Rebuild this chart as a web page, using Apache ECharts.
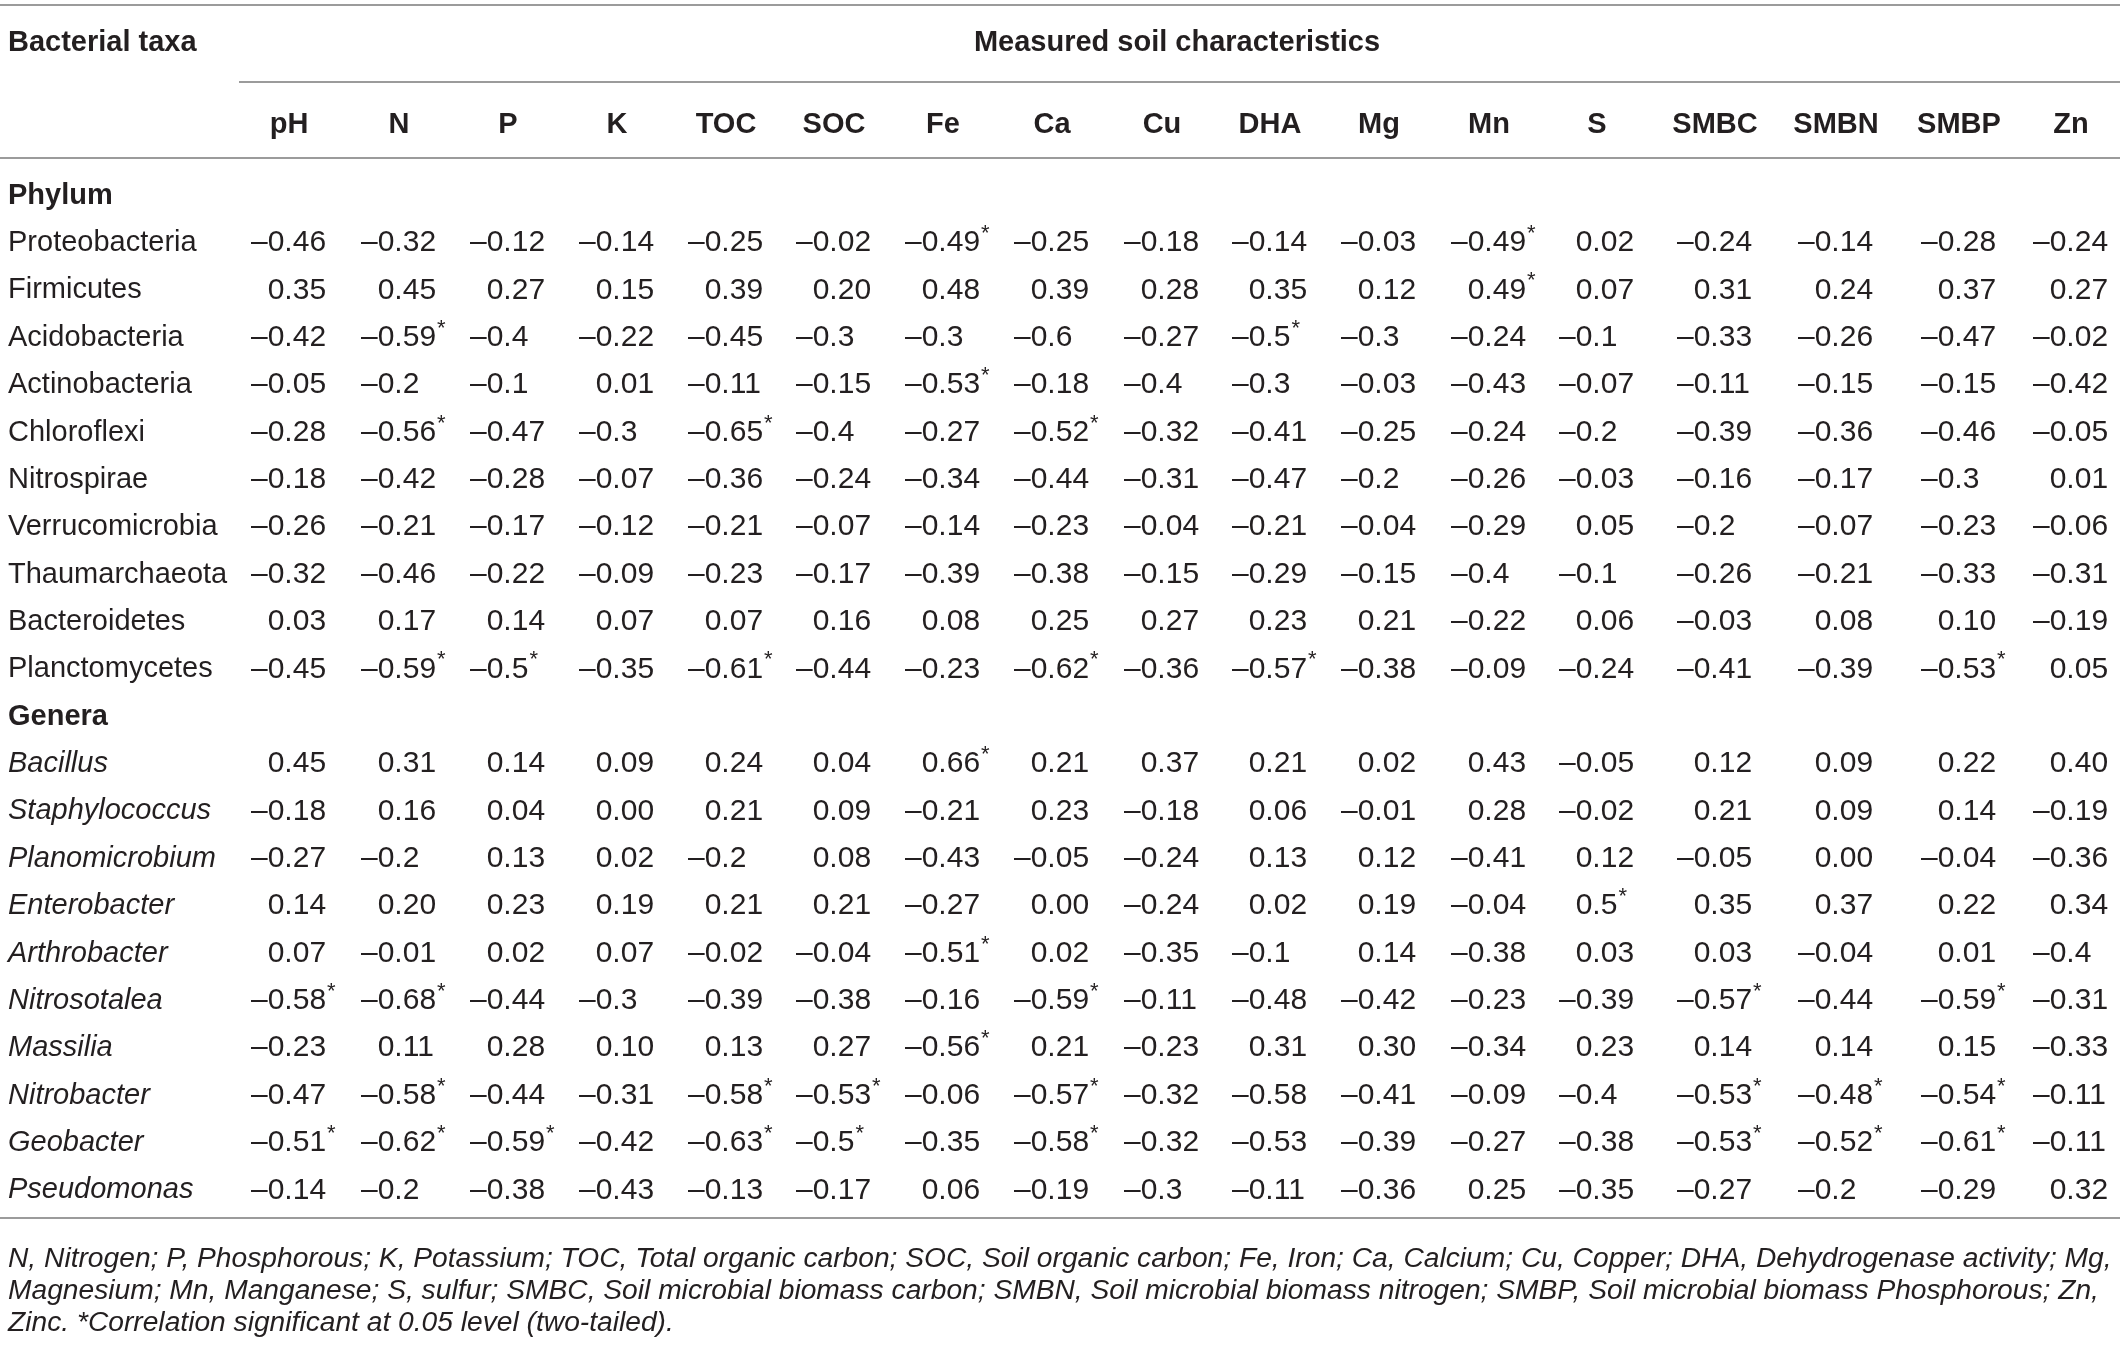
<!DOCTYPE html>
<html style="height: 100%">
<head>
    <meta charset="utf-8">
</head>
<body style="height: 100%; margin: 0; background: #fff">
<div id="container" style="width: 2120px; height: 1347px"></div>
<script type="text/javascript" src="https://cdn.jsdelivr.net/npm/echarts@6/dist/echarts.min.js"></script>
<script type="text/javascript">
    // soil characteristics (table columns)
    var columns = ['pH', 'N', 'P', 'K', 'TOC', 'SOC', 'Fe', 'Ca', 'Cu', 'DHA', 'Mg', 'Mn', 'S', 'SMBC', 'SMBN', 'SMBP', 'Zn'];

    var phyla = ['Proteobacteria', 'Firmicutes', 'Acidobacteria', 'Actinobacteria', 'Chloroflexi', 'Nitrospirae',
        'Verrucomicrobia', 'Thaumarchaeota', 'Bacteroidetes', 'Planctomycetes'];
    var genera = ['Bacillus', 'Staphylococcus', 'Planomicrobium', 'Enterobacter', 'Arthrobacter', 'Nitrosotalea',
        'Massilia', 'Nitrobacter', 'Geobacter', 'Pseudomonas'];

    // correlation values as printed, * = significant at 0.05
    var phylumValues = [
        ['–0.46', '–0.32', '–0.12', '–0.14', '–0.25', '–0.02', '–0.49*', '–0.25', '–0.18', '–0.14', '–0.03', '–0.49*', '0.02', '–0.24', '–0.14', '–0.28', '–0.24'],
        ['0.35', '0.45', '0.27', '0.15', '0.39', '0.20', '0.48', '0.39', '0.28', '0.35', '0.12', '0.49*', '0.07', '0.31', '0.24', '0.37', '0.27'],
        ['–0.42', '–0.59*', '–0.4', '–0.22', '–0.45', '–0.3', '–0.3', '–0.6', '–0.27', '–0.5*', '–0.3', '–0.24', '–0.1', '–0.33', '–0.26', '–0.47', '–0.02'],
        ['–0.05', '–0.2', '–0.1', '0.01', '–0.11', '–0.15', '–0.53*', '–0.18', '–0.4', '–0.3', '–0.03', '–0.43', '–0.07', '–0.11', '–0.15', '–0.15', '–0.42'],
        ['–0.28', '–0.56*', '–0.47', '–0.3', '–0.65*', '–0.4', '–0.27', '–0.52*', '–0.32', '–0.41', '–0.25', '–0.24', '–0.2', '–0.39', '–0.36', '–0.46', '–0.05'],
        ['–0.18', '–0.42', '–0.28', '–0.07', '–0.36', '–0.24', '–0.34', '–0.44', '–0.31', '–0.47', '–0.2', '–0.26', '–0.03', '–0.16', '–0.17', '–0.3', '0.01'],
        ['–0.26', '–0.21', '–0.17', '–0.12', '–0.21', '–0.07', '–0.14', '–0.23', '–0.04', '–0.21', '–0.04', '–0.29', '0.05', '–0.2', '–0.07', '–0.23', '–0.06'],
        ['–0.32', '–0.46', '–0.22', '–0.09', '–0.23', '–0.17', '–0.39', '–0.38', '–0.15', '–0.29', '–0.15', '–0.4', '–0.1', '–0.26', '–0.21', '–0.33', '–0.31'],
        ['0.03', '0.17', '0.14', '0.07', '0.07', '0.16', '0.08', '0.25', '0.27', '0.23', '0.21', '–0.22', '0.06', '–0.03', '0.08', '0.10', '–0.19'],
        ['–0.45', '–0.59*', '–0.5*', '–0.35', '–0.61*', '–0.44', '–0.23', '–0.62*', '–0.36', '–0.57*', '–0.38', '–0.09', '–0.24', '–0.41', '–0.39', '–0.53*', '0.05']
    ];
    var generaValues = [
        ['0.45', '0.31', '0.14', '0.09', '0.24', '0.04', '0.66*', '0.21', '0.37', '0.21', '0.02', '0.43', '–0.05', '0.12', '0.09', '0.22', '0.40'],
        ['–0.18', '0.16', '0.04', '0.00', '0.21', '0.09', '–0.21', '0.23', '–0.18', '0.06', '–0.01', '0.28', '–0.02', '0.21', '0.09', '0.14', '–0.19'],
        ['–0.27', '–0.2', '0.13', '0.02', '–0.2', '0.08', '–0.43', '–0.05', '–0.24', '0.13', '0.12', '–0.41', '0.12', '–0.05', '0.00', '–0.04', '–0.36'],
        ['0.14', '0.20', '0.23', '0.19', '0.21', '0.21', '–0.27', '0.00', '–0.24', '0.02', '0.19', '–0.04', '0.5*', '0.35', '0.37', '0.22', '0.34'],
        ['0.07', '–0.01', '0.02', '0.07', '–0.02', '–0.04', '–0.51*', '0.02', '–0.35', '–0.1', '0.14', '–0.38', '0.03', '0.03', '–0.04', '0.01', '–0.4'],
        ['–0.58*', '–0.68*', '–0.44', '–0.3', '–0.39', '–0.38', '–0.16', '–0.59*', '–0.11', '–0.48', '–0.42', '–0.23', '–0.39', '–0.57*', '–0.44', '–0.59*', '–0.31'],
        ['–0.23', '0.11', '0.28', '0.10', '0.13', '0.27', '–0.56*', '0.21', '–0.23', '0.31', '0.30', '–0.34', '0.23', '0.14', '0.14', '0.15', '–0.33'],
        ['–0.47', '–0.58*', '–0.44', '–0.31', '–0.58*', '–0.53*', '–0.06', '–0.57*', '–0.32', '–0.58', '–0.41', '–0.09', '–0.4', '–0.53*', '–0.48*', '–0.54*', '–0.11'],
        ['–0.51*', '–0.62*', '–0.59*', '–0.42', '–0.63*', '–0.5*', '–0.35', '–0.58*', '–0.32', '–0.53', '–0.39', '–0.27', '–0.38', '–0.53*', '–0.52*', '–0.61*', '–0.11'],
        ['–0.14', '–0.2', '–0.38', '–0.43', '–0.13', '–0.17', '0.06', '–0.19', '–0.3', '–0.11', '–0.36', '0.25', '–0.35', '–0.27', '–0.2', '–0.29', '0.32']
    ];

    var footnote = [
        'N, Nitrogen; P, Phosphorous; K, Potassium; TOC, Total organic carbon; SOC, Soil organic carbon; Fe, Iron; Ca, Calcium; Cu, Copper; DHA, Dehydrogenase activity; Mg,',
        'Magnesium; Mn, Manganese; S, sulfur; SMBC, Soil microbial biomass carbon; SMBN, Soil microbial biomass nitrogen; SMBP, Soil microbial biomass Phosphorous; Zn,',
        'Zinc. *Correlation significant at 0.05 level (two-tailed).'
    ];

    // layout: width of the taxa column, then each characteristic column
    var firstColWidth = 251;
    var colWidths = [110, 109, 109, 109, 108, 109, 109, 110, 108, 109, 110, 108, 118, 121, 123, 112];

    var FONT = '"Liberation Sans", Arial, Helvetica, sans-serif';
    var SIZE = 29;
    var VSIZE = 30;
    var INK = '#231f20';
    var RULE = '#7a7a7a';

    var colLeft = [firstColWidth];
    colWidths.forEach(function (w, i) { colLeft.push(colLeft[i] + w); });

    var rowNames = ['Phylum'].concat(phyla, ['Genera'], genera);
    var allValues = [null].concat(phylumValues, [null], generaValues);

    var cells = [];
    allValues.forEach(function (row, r) {
        if (!row) return;
        row.forEach(function (v, c) { cells.push([c, r, v]); });
    });

    var ctx = document.createElement('canvas').getContext('2d');
    ctx.font = VSIZE + 'px ' + FONT;
    var dashW = ctx.measureText('–').width;

    var dom = document.getElementById('container');
    var myChart = echarts.init(dom);

    var option = {
        backgroundColor: '#fff',
        animation: false,
        grid: { left: 0, right: 0, top: 172, bottom: 133 },
        xAxis: { type: 'value', min: 0, max: 2120, show: false },
        yAxis: {
            type: 'category',
            inverse: true,
            data: rowNames,
            axisLine: { show: false },
            axisTick: { show: false },
            splitLine: { show: false },
            axisLabel: {
                inside: true,
                margin: 8,
                align: 'left',
                color: INK,
                fontFamily: FONT,
                fontSize: SIZE,
                formatter: function (v, i) {
                    if (v === 'Phylum' || v === 'Genera') return '{b|' + v + '}';
                    if (genera.indexOf(v) >= 0) return '{i|' + v + '}';
                    return v;
                },
                rich: {
                    b: { fontWeight: 'bold', fontFamily: FONT, fontSize: SIZE, color: INK },
                    i: { fontStyle: 'italic', fontFamily: FONT, fontSize: SIZE, color: INK }
                }
            }
        },
        graphic: [
            { type: 'line', shape: { x1: 0, y1: 5, x2: 2120, y2: 5 }, style: { stroke: RULE, lineWidth: 1.6 } },
            { type: 'line', shape: { x1: 239, y1: 82, x2: 2120, y2: 82 }, style: { stroke: RULE, lineWidth: 1.6 } },
            { type: 'line', shape: { x1: 0, y1: 158, x2: 2120, y2: 158 }, style: { stroke: RULE, lineWidth: 1.6 } },
            { type: 'line', shape: { x1: 0, y1: 1218, x2: 2120, y2: 1218 }, style: { stroke: RULE, lineWidth: 1.6 } },
            {
                type: 'text', x: 8, y: 43,
                style: { text: 'Bacterial taxa', font: 'bold ' + SIZE + 'px ' + FONT, fill: INK, verticalAlign: 'middle' }
            },
            {
                type: 'text', x: 1177, y: 43,
                style: { text: 'Measured soil characteristics', font: 'bold ' + SIZE + 'px ' + FONT, fill: INK, align: 'center', verticalAlign: 'middle' }
            },
            {
                type: 'text', x: 8, y: 1291,
                style: { text: footnote.join('\n'), font: 'italic 28.2px ' + FONT, fill: INK, lineHeight: 32, verticalAlign: 'middle' }
            }
        ],
        series: [
            {
                // column headings
                type: 'custom',
                coordinateSystem: 'cartesian2d',
                data: columns.map(function (n, c) { return [c, 0]; }),
                renderItem: function (params, api) {
                    var c = api.value(0);
                    var p = api.coord([colLeft[c] + 38, 0]);
                    return {
                        type: 'text', x: p[0], y: 125,
                        style: { text: columns[c], font: 'bold ' + SIZE + 'px ' + FONT, fill: INK, align: 'center', verticalAlign: 'middle' }
                    };
                }
            },
            {
                // correlation cells
                type: 'custom',
                coordinateSystem: 'cartesian2d',
                data: cells,
                renderItem: function (params, api) {
                    var c = api.value(0);
                    var r = api.value(1);
                    var s = cells[params.dataIndex][2];
                    var star = s.indexOf('*') >= 0;
                    var body = s.replace('*', '');
                    var p = api.coord([colLeft[c], r]);
                    var x = p[0] + (body.charAt(0) === '–' ? 0 : dashW);
                    var children = [{
                        type: 'text', x: x, y: p[1],
                        style: { text: body, font: VSIZE + 'px ' + FONT, fill: INK, align: 'left', verticalAlign: 'middle' }
                    }];
                    if (star) {
                        ctx.font = VSIZE + 'px ' + FONT;
                        var w = ctx.measureText(body).width;
                        children.push({
                            type: 'text', x: x + w + 1, y: p[1] - 9,
                            style: { text: '*', font: '22px ' + FONT, fill: INK, align: 'left', verticalAlign: 'middle' }
                        });
                    }
                    return { type: 'group', children: children };
                }
            }
        ]
    };

    myChart.setOption(option);
</script>
</body>
</html>
